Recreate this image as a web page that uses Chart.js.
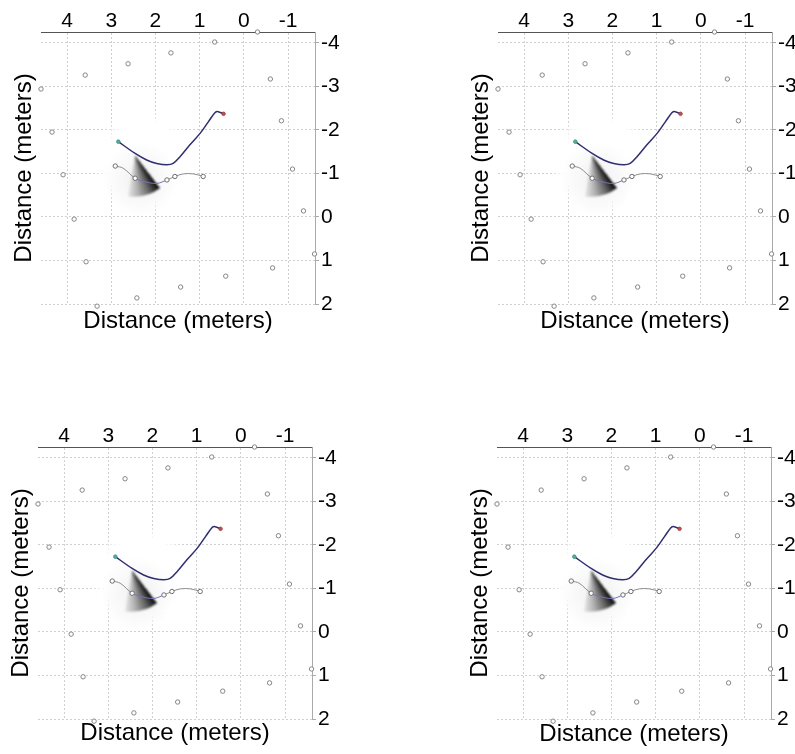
<!DOCTYPE html>
<html>
<head>
<meta charset="utf-8">
<script src="https://cdn.jsdelivr.net/npm/chart.js@4.4.1/dist/chart.umd.min.js"></script>
<style>
body{margin:0;background:#fff;width:795px;height:754px;overflow:hidden;position:relative;}
canvas{position:absolute;}
</style>
</head>
<body>
<script>
// axis ticks (m)
const xTicks = [4, 3, 2, 1, 0, -1];
const yTicks = [-4, -3, -2, -1, 0, 1, 2];
const xRange = [-1.61, 4.59];
const yRange = [-4.25, 2];
const axisTitle = 'Distance (meters)';

// landmark positions
const landmarkX = [-0.31, 0.66, 1.65, 2.62, 3.59, 4.59, 4.34, 4.09, 3.84, 3.57, 3.32, 2.42, 1.43, 0.41, -0.65, -1.6, -1.35, -1.1, -0.85, -0.6];
const landmarkY = [-4.25, -4.02, -3.77, -3.52, -3.26, -2.94, -1.95, -0.97, 0.05, 1.03, 2.05, 1.86, 1.61, 1.36, 1.17, 0.85, -0.14, -1.1, -2.21, -3.17];

// estimated path
const pathX = [2.84, 2.46, 2.20, 1.97, 1.74, 1.60, 1.44, 1.22, 0.99, 0.80, 0.65, 0.58, 0.46];
const pathY = [-1.73, -1.46, -1.31, -1.23, -1.20, -1.23, -1.39, -1.66, -1.92, -2.19, -2.40, -2.42, -2.37];

// odometry path and the samples that get a marker
const odoX = [2.91, 2.73, 2.46, 2.24, 1.97, 1.74, 1.56, 1.37, 1.14, 0.92];
const odoY = [-1.17, -1.12, -0.89, -0.81, -0.77, -0.85, -0.93, -0.99, -0.99, -0.93];
const odoMarks = [0, 2, 5, 6, 9];

// sensor cone: apex, dark edge end, light edge end
const coneApex = [2.47, -1.43];
const coneDark = [1.90, -0.67];
const coneLight = [2.62, -0.47];

// cleared (white) area around the robot
const clearCenter = [2.24, -1.26];
const clearRadius = 1.2;

const panels = [
    {left: 0, top: 0, titlePad: 10},
    {left: 457, top: 0, titlePad: 10},
    {left: -3, top: 415, titlePad: 13},
    {left: 456, top: 415, titlePad: 12}
];

const FONT = 'Liberation Sans, Arial, sans-serif';

function toPoints(xs, ys){
    let pts = [];
    for (let i=0; i<xs.length; i++){pts.push({'x':xs[i],'y':ys[i]});}
    return pts;
}

const shading = {
    id: 'shading',
    beforeDatasetsDraw(chart){
        let ctx = chart.ctx;
        let sx = chart.scales.x, sy = chart.scales.y;
        let area = chart.chartArea;
        ctx.save();
        ctx.beginPath();
        ctx.rect(area.left, area.top, area.right-area.left, area.bottom-area.top);
        ctx.clip();

        // white patch over the grid
        let cx = sx.getPixelForValue(clearCenter[0]), cy = sy.getPixelForValue(clearCenter[1]);
        let r = Math.abs(sx.getPixelForValue(0) - sx.getPixelForValue(clearRadius));
        let g = ctx.createRadialGradient(cx, cy, 0, cx, cy, r);
        g.addColorStop(0, 'rgba(255,255,255,1)');
        g.addColorStop(0.72, 'rgba(255,255,255,1)');
        g.addColorStop(1, 'rgba(255,255,255,0)');
        ctx.fillStyle = g;
        ctx.fillRect(cx-r, cy-r, 2*r, 2*r);

        // cone
        let ax = sx.getPixelForValue(coneApex[0]), ay = sy.getPixelForValue(coneApex[1]);
        let dx = sx.getPixelForValue(coneDark[0]), dy = sy.getPixelForValue(coneDark[1]);
        let lx = sx.getPixelForValue(coneLight[0]), ly = sy.getPixelForValue(coneLight[1]);
        let a1 = Math.atan2(dy-ay, dx-ax), a2 = Math.atan2(ly-ay, lx-ax);
        let rr = (Math.hypot(dx-ax, dy-ay) + Math.hypot(lx-ax, ly-ay)) / 2;

        // faint grey smear round it
        let mid = (a1+a2)/2;
        let mx = ax + Math.cos(mid)*rr*0.6, my = ay + Math.sin(mid)*rr*0.6;
        let hg = ctx.createRadialGradient(mx, my, 0, mx, my, rr*0.9);
        hg.addColorStop(0, 'rgba(0,0,0,0.06)');
        hg.addColorStop(1, 'rgba(0,0,0,0)');
        ctx.fillStyle = hg;
        ctx.fillRect(mx-rr, my-rr, rr*2, rr*2);

        let span = (a2-a1) / (2*Math.PI);
        let cg = ctx.createConicGradient(a1, ax, ay);
        cg.addColorStop(0, 'rgba(0,0,0,0.97)');
        cg.addColorStop(span*0.12, 'rgba(10,10,10,0.88)');
        cg.addColorStop(span*0.35, 'rgba(0,0,0,0.58)');
        cg.addColorStop(span*0.7, 'rgba(0,0,0,0.28)');
        cg.addColorStop(span, 'rgba(0,0,0,0.08)');
        cg.addColorStop(1, 'rgba(0,0,0,0)');
        ctx.filter = 'blur(1px)';
        ctx.beginPath();
        ctx.moveTo(ax, ay);
        ctx.arc(ax, ay, rr, a1, a2, false);
        ctx.closePath();
        ctx.fillStyle = cg;
        ctx.fill();
        ctx.filter = 'none';
        ctx.restore();
    }
};

function makePanel(p){
    let canvas = document.createElement('canvas');
    canvas.width = 400;
    canvas.height = 346;
    canvas.style.left = p.left + 'px';
    canvas.style.top = p.top + 'px';
    document.body.appendChild(canvas);

    let tickFont = {'family': FONT, 'size': 21, 'lineHeight': 1};
    let titleFont = {'family': FONT, 'size': 24};
    let config = {
        'type': 'scatter',
        'data': {
            'datasets': [
                {
                    'data': toPoints([pathX[0], pathX[pathX.length-1]], [pathY[0], pathY[pathY.length-1]]),
                    'pointRadius': 1.8,
                    'pointBorderWidth': 0.8,
                    'pointBackgroundColor': ['#4fb3a0', '#c0504d'],
                    'pointBorderColor': ['#3a8a7a', '#9a3a3a'],
                    'showLine': false
                },
                {
                    'data': toPoints(pathX, pathY),
                    'showLine': true,
                    'borderColor': '#2e2e70',
                    'borderWidth': 1.5,
                    'pointRadius': 0,
                    'tension': 0.35
                },
                {
                    'data': toPoints(odoX, odoY),
                    'showLine': true,
                    'borderColor': '#8c8c8c',
                    'borderWidth': 1,
                    'tension': 0.35,
                    'segment': {
                        'borderColor': c => (c.p0DataIndex >= 2 && c.p0DataIndex < 5) ? '#7474b8' : '#8c8c8c'
                    },
                    'pointRadius': c => odoMarks.includes(c.dataIndex) ? 2.2 : 0,
                    'pointBackgroundColor': '#fff',
                    'pointBorderColor': '#6f6f6f',
                    'pointBorderWidth': 1
                },
                {
                    'data': toPoints(landmarkX, landmarkY),
                    'showLine': false,
                    'pointRadius': 2.2,
                    'pointBackgroundColor': '#fff',
                    'pointBorderColor': '#858585',
                    'pointBorderWidth': 1,
                    'clip': false
                }
            ]
        },
        'options': {
            'responsive': false,
            'animation': false,
            'devicePixelRatio': 1,
            'layout': {'padding': 0},
            'plugins': {'legend': {'display': false}, 'tooltip': {'enabled': false}},
            'scales': {
                'x': {
                    'type': 'linear', 'position': 'top', 'reverse': true,
                    'min': xRange[0], 'max': xRange[1],
                    'afterBuildTicks': s => { s.ticks = xTicks.map(v => ({'value': v})); },
                    'afterFit': s => { s.height = 32; },
                    'ticks': {'font': tickFont, 'color': '#000', 'padding': 0, 'maxRotation': 0, 'autoSkip': false},
                    'grid': {'color': '#cfcfcf', 'drawTicks': false},
                    'border': {'display': true, 'color': '#555', 'width': 1, 'dash': [2, 2]}
                },
                'y': {
                    'type': 'linear', 'position': 'right', 'reverse': true,
                    'min': yRange[0], 'max': yRange[1],
                    'afterBuildTicks': s => { s.ticks = yTicks.map(v => ({'value': v})); },
                    'afterFit': s => { s.width = 85; },
                    'ticks': {'font': tickFont, 'color': '#000', 'padding': 2, 'autoSkip': false},
                    'grid': {'color': '#cfcfcf', 'tickLength': 4, 'tickColor': '#aaa'},
                    'border': {'display': true, 'color': '#aaa', 'width': 1, 'dash': [2, 2]}
                },
                'x2': {
                    'type': 'linear', 'position': 'bottom', 'min': 0, 'max': 1,
                    'afterFit': s => { s.height = 42; },
                    'ticks': {'display': false},
                    'grid': {'display': false},
                    'border': {'display': false},
                    'title': {'display': true, 'text': axisTitle, 'color': '#000',
                              'font': titleFont, 'padding': {'top': 0, 'bottom': p.titlePad}}
                },
                'y2': {
                    'type': 'linear', 'position': 'left', 'min': 0, 'max': 1,
                    'afterFit': s => { s.width = 41; },
                    'ticks': {'display': false},
                    'grid': {'display': false},
                    'border': {'display': false},
                    'title': {'display': true, 'text': axisTitle, 'color': '#000',
                              'font': titleFont, 'padding': {'top': 10, 'bottom': 0}}
                }
            }
        },
        'plugins': [shading]
    };
    new Chart(canvas.getContext('2d'), config);
}

panels.forEach(makePanel);
</script>
</body>
</html>
